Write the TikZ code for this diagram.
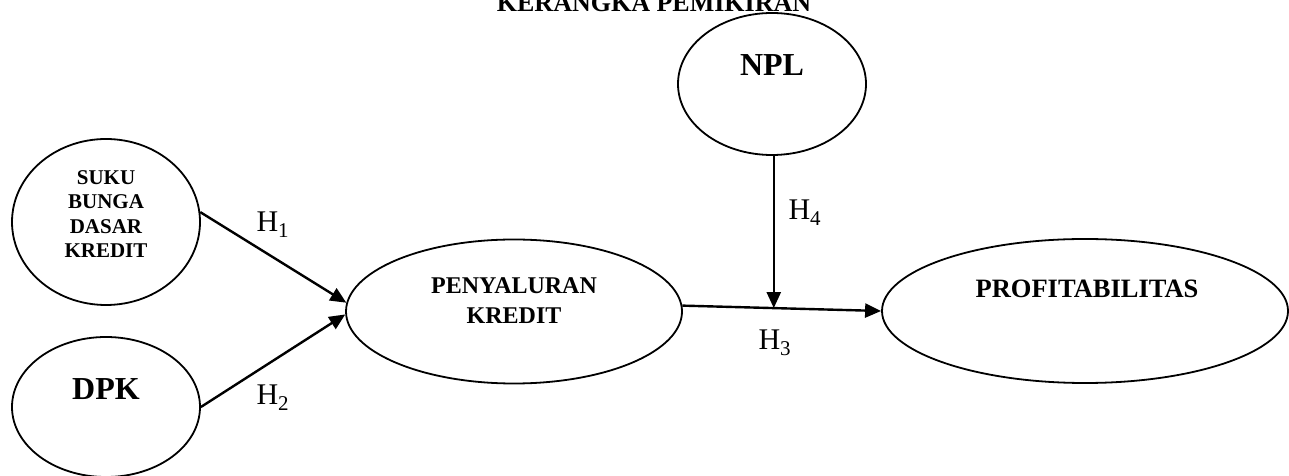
\documentclass[tikz,border=0pt]{standalone}
\usepackage{fontspec}
\setmainfont{Liberation Serif}
\usetikzlibrary{arrows.meta, calc, shapes.geometric}

\begin{document}
\begin{tikzpicture}[x=1pt, y=1pt,
  every node/.style={font=\bfseries},
  var/.style={draw, ellipse, line width=1.8pt, inner sep=0pt},
  link/.style={line width=2.4pt, -{Triangle[length=16pt, width=14pt]}},
  hyp/.style={font=\fontsize{30}{36}\selectfont, anchor=base west}]
  \useasboundingbox (0,0) rectangle (1289,476);
  % judul
  \node[anchor=base, font=\fontsize{26}{30}\selectfont\bfseries] (judul) at (654,464) {KERANGKA PEMIKIRAN};
  % variabel
  \node[var, minimum width=188pt, minimum height=166pt] (suku) at (106,254) {};
  \node[var, minimum width=188pt, minimum height=140pt] (dpk) at (106,69) {};
  \node[var, minimum width=188pt, minimum height=142pt] (npl) at (772,392) {};
  \node[var, minimum width=336pt, minimum height=144pt] (pk) at (514,164.5) {};
  \node[var, minimum width=406pt, minimum height=144pt] (pr) at (1085,165) {};
  \node[align=center, font=\fontsize{21}{24.4}\selectfont\bfseries] (sukutxt) at (106,262) {SUKU\\BUNGA\\DASAR\\KREDIT};
  \node[font=\fontsize{32}{36}\selectfont\bfseries] (dpktxt) at (106,86.5) {DPK};
  \node[font=\fontsize{32}{36}\selectfont\bfseries] (npltxt) at (772,411) {NPL};
  \node[align=center, font=\fontsize{24}{30}\selectfont\bfseries] (pktxt) at (514,175) {PENYALURAN\\KREDIT};
  \node[font=\fontsize{26.5}{30}\selectfont\bfseries] (prtxt) at (1087,187) {PROFITABILITAS};
  % hubungan
  \draw[link] (suku.6) -- (pk.177);
  \draw[link] (dpk.east) -- (pk.181);
  \draw[link] (pk.2) -- (pr.west);
  \coordinate (temu) at ($(pk.2)!0.46!(pr.west)$);
  \draw[link] (temu |- npl.south) -- (temu);
  % hipotesis
  \node[hyp] (h1) at (253,244) {H\textsubscript{1}};
  \node[hyp] (h2) at (253,71) {H\textsubscript{2}};
  \node[hyp] (h3) at (755,126) {H\textsubscript{3}};
  \node[hyp] (h4) at (785,256) {H\textsubscript{4}};
\end{tikzpicture}
\end{document}
